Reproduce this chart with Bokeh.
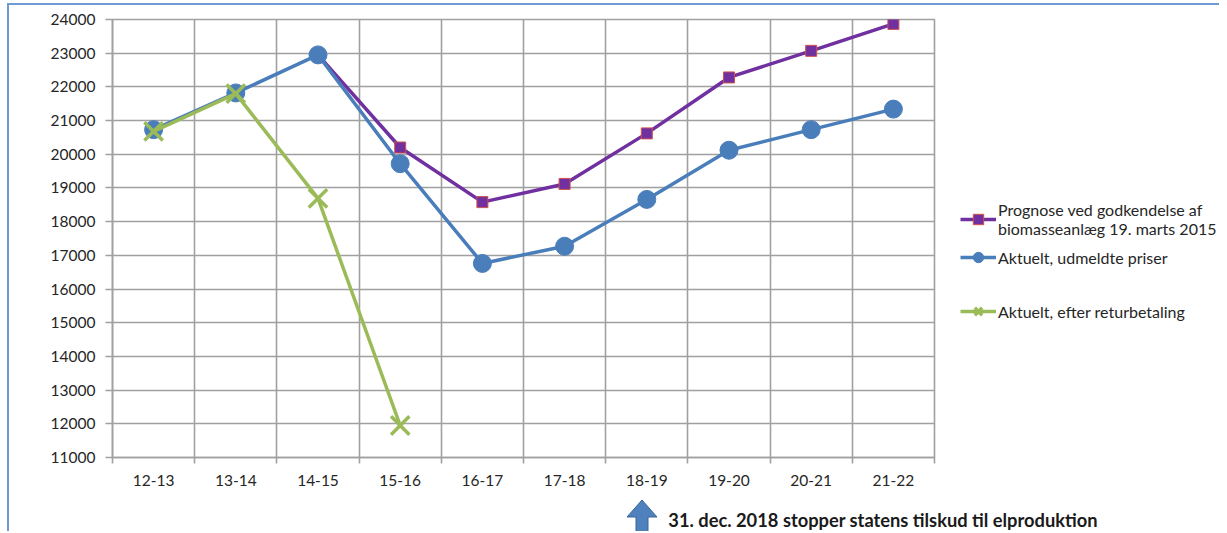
import math
from bokeh.plotting import figure
from bokeh.layouts import column, row
from bokeh.models import (FixedTicker, Legend, LegendItem, ColumnDataSource, Range1d,
                          NumeralTickFormatter, Div)
from bokeh.embed import file_html
from bokeh.resources import INLINE

categories = ["12-13", "13-14", "14-15", "15-16", "16-17", "17-18", "18-19", "19-20", "20-21", "21-22"]
prognose = [math.nan, math.nan, 22950, 20200, 18580, 19120, 20620, 22280, 23070, 23870]
aktuelt = [20730, 21820, 22950, 19720, 16760, 17270, 18660, 20120, 20730, 21340]
retur = [20680, 21800, 18690, 11950]
y_ticks = list(range(11000, 24001, 1000))
series_labels = ["Prognose ved godkendelse af\nbiomasseanlæg 19. marts 2015",
                 "Aktuelt, udmeldte priser",
                 "Aktuelt, efter returbetaling"]
note_text = "31. dec. 2018 stopper statens tilskud til elproduktion"
note_category = "18-19"

FONT = "Lato"
GRID = "#a0a0a0"
TXT = "#262626"
PURPLE = "#7030a0"
BLUE = "#4a7ebb"
GREEN = "#9bbb59"

idx = list(range(len(categories)))
bounds = [i - 0.5 for i in range(len(categories) + 1)]

# ---- main chart -------------------------------------------------------
FW, FH = 822, 439
BL, BR, BT, BB = 103, 2, 14, 30
PW, PH = BL + FW + BR, BT + FH + BB
p = figure(width=PW, height=PH, x_range=Range1d(-0.5, len(categories) - 0.5),
           y_range=Range1d(y_ticks[0], y_ticks[-1]), output_backend="svg",
           toolbar_location=None, min_border_left=BL, min_border_right=BR,
           min_border_top=BT, min_border_bottom=BB)
p.outline_line_color = GRID
p.outline_line_width = 1.6

xa = p.xaxis[0]
xa.ticker = FixedTicker(ticks=idx, minor_ticks=bounds)
xa.major_label_overrides = {i: c for i, c in enumerate(categories)}
xa.major_tick_line_color = None
xa.major_tick_out = 0
xa.major_tick_in = 0
xa.minor_tick_line_color = GRID
xa.minor_tick_line_width = 1.6
xa.minor_tick_out = 6
xa.minor_tick_in = 0
xa.major_label_standoff = 11
xa.axis_line_color = GRID
xa.axis_line_width = 1.6

ya = p.yaxis[0]
ya.ticker = FixedTicker(ticks=y_ticks)
ya.formatter = NumeralTickFormatter(format="0")
ya.major_tick_line_color = GRID
ya.major_tick_line_width = 1.6
ya.major_tick_out = 7
ya.major_tick_in = 0
ya.minor_tick_line_color = None
ya.major_label_standoff = 10
ya.axis_line_color = GRID
ya.axis_line_width = 1.6

for ax in (xa, ya):
    ax.major_label_text_font = FONT
    ax.major_label_text_font_size = "15.5px"
    ax.major_label_text_color = TXT

p.xgrid.ticker = FixedTicker(ticks=bounds)
p.ygrid.ticker = FixedTicker(ticks=y_ticks)
for g in (p.xgrid[0], p.ygrid[0]):
    g.grid_line_color = GRID
    g.grid_line_width = 1.6

src_p = ColumnDataSource(dict(x=idx, y=prognose))
src_a = ColumnDataSource(dict(x=idx, y=aktuelt))
src_r = ColumnDataSource(dict(x=idx[:len(retur)], y=retur))
sources = (src_p, src_a, src_r)

STY = [
    dict(line=dict(line_color=PURPLE, line_width=3.5),
         mark=dict(marker="square", size=11, fill_color=PURPLE, line_color="#d0504d", line_width=1)),
    dict(line=dict(line_color=BLUE, line_width=3.5),
         mark=dict(marker="circle", size=18, fill_color=BLUE, line_color=BLUE)),
    dict(line=dict(line_color=GREEN, line_width=3.5),
         mark=dict(marker="x", size=26, line_color=GREEN, line_width=3.5)),
]
for src, st in zip(sources, STY):
    p.line("x", "y", source=src, **st["line"])
    p.scatter("x", "y", source=src, **st["mark"])

# ---- legend strip (right of the chart) -------------------------------
# same series drawn again here only so the legend has glyphs; the ranges keep them out of view
RW = 1210 - PW
r = figure(width=RW, height=PH, x_axis_type=None, y_axis_type=None,
           output_backend="svg", toolbar_location=None,
           min_border_left=0, min_border_right=0, min_border_top=BT, min_border_bottom=BB,
           x_range=Range1d(100, 101), y_range=Range1d(0, 1))
r.grid.visible = False
r.outline_line_color = None
legend_y = [219, 187, 133]   # bottom of each legend entry above the frame bottom (px)
for lab, src, st, ly in zip(series_labels, sources, STY, legend_y):
    lr = r.line("x", "y", source=src, **st["line"])
    mr = r.scatter("x", "y", source=src, **st["mark"])
    lg = Legend(items=[LegendItem(label=lab, renderers=[lr, mr])], location=(24, ly))
    lg.margin = 0
    lg.padding = 0
    lg.glyph_width = 36
    lg.glyph_height = 26
    lg.label_height = 20
    lg.label_standoff = 2
    lg.label_text_font = FONT
    lg.label_text_font_size = "16px"
    lg.label_text_line_height = 1.37
    lg.label_text_color = TXT
    lg.border_line_color = None
    lg.background_fill_alpha = 0
    r.add_layout(lg)

# ---- note below the chart: arrow at "18-19" + text ---------------------
QH = 43
col_w = FW / len(categories)
ax_c = BL + (categories.index(note_category) + 0.5) * col_w - 4
tip, base = 12, 29
arrow_svg = (f'<svg style="position:absolute;left:{ax_c - 16:.1f}px;top:{tip - 1}px;overflow:visible" '
             f'width="32" height="{QH - tip + 1}">'
             f'<polygon points="16,1 31,{base - tip + 1} 22,{base - tip + 1} 22,{QH + 4} '
             f'10,{QH + 4} 10,{base - tip + 1} 1,{base - tip + 1}" '
             f'fill="#4f81bd" stroke="#3a659a" stroke-width="1"/></svg>')
note_span = (f'<span style="position:absolute;left:{ax_c + 26:.1f}px;top:{base - 7}px;'
             f'font-family:Lato;font-weight:bold;font-size:18.3px;line-height:20px;'
             f'color:#1a1a1a;white-space:nowrap">{note_text}</span>')
note = Div(text=f'<div style="position:relative;width:1210px;height:{QH}px;overflow:hidden">'
                f'{arrow_svg}{note_span}</div>', width=1210, height=QH, margin=0)

layout = column(row(p, r, spacing=0), note, spacing=0)
layout.styles = {"margin": "3px 0 0 7px",
                 "border-top": "2px solid #6f9bd4", "border-left": "2px solid #6f9bd4"}

open("out.html", "w").write(file_html(layout, INLINE))
